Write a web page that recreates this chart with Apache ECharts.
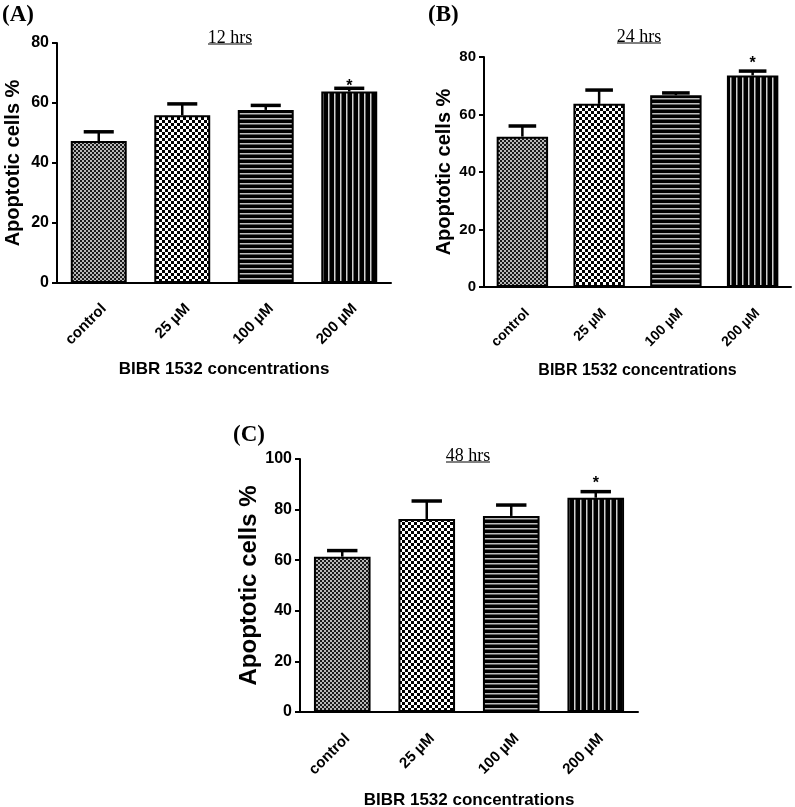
<!DOCTYPE html>
<html>
<head>
<meta charset="utf-8">
<script src="https://cdn.jsdelivr.net/npm/echarts@6/dist/echarts.min.js"></script>
<style>
html,body{margin:0;padding:0;background:#fff;}
#chart{width:795px;height:807px;}
</style>
</head>
<body>
<div id="chart"></div>
<script>
// ---- data ----
const categories = ['control', '25 µM', '100 µM', '200 µM'];
const valuesA = [47.3, 55.9, 57.7, 63.8];
const errorsA = [3.1, 3.8, 1.5, 1.1];
const valuesB = [52.3, 63.7, 66.7, 73.6];
const errorsB = [3.7, 4.8, 0.8, 1.5];
const valuesC = [61.4, 76.3, 77.5, 84.7];
const errorsC = [2.4, 7.1, 4.3, 2.4];
const significant = [0, 0, 0, 1];
const yTicksA = [0, 20, 40, 60, 80];
const yTicksB = [0, 20, 40, 60, 80];
const yTicksC = [0, 20, 40, 60, 80, 100];
const titles = ['12 hrs', '24 hrs', '48 hrs'];
const panelLabels = ['(A)', '(B)', '(C)'];
const yName = 'Apoptotic cells %';
const xName = 'BIBR 1532 concentrations';

// ---- patterns ----
function makeCanvas(w, h, draw) {
  const c = document.createElement('canvas');
  c.width = w; c.height = h;
  const ctx = c.getContext('2d');
  draw(ctx);
  return c;
}
const patControl = makeCanvas(4, 4, ctx => {
  ctx.fillStyle = '#b8b8b8'; ctx.fillRect(0, 0, 4, 4);
  ctx.fillStyle = '#1a1a1a'; ctx.fillRect(0, 0, 2, 2); ctx.fillRect(2, 2, 2, 2);
});
const patChecker = makeCanvas(6, 6, ctx => {
  ctx.fillStyle = '#ffffff'; ctx.fillRect(0, 0, 6, 6);
  ctx.fillStyle = '#000000'; ctx.fillRect(0, 0, 3, 3); ctx.fillRect(3, 3, 3, 3);
});
const patHoriz = makeCanvas(5, 5, ctx => {
  ctx.fillStyle = '#000000'; ctx.fillRect(0, 0, 5, 5);
  ctx.fillStyle = '#bdbdbd'; ctx.fillRect(0, 3, 5, 1.5);
});
const patVert = makeCanvas(6, 6, ctx => {
  ctx.fillStyle = '#000000'; ctx.fillRect(0, 0, 6, 6);
  ctx.fillStyle = '#d0d0d0'; ctx.fillRect(4, 0, 1.5, 6);
});
const patterns = [patControl, patChecker, patHoriz, patVert];

// ---- layout ----
const panels = [
  {values: valuesA, errors: errorsA, ticks: yTicksA, grid: {left: 57, top: 43, width: 334, height: 240},
   tickFont: 16, yNameFont: 20, yNameGap: 34, xNameFont: 17, xNameGap: 78, catFont: 15, catMargin: 18, starGap: 2,
   title: {x: 230, y: 38, size: 18}, label: {x: 2, y: 15}},
  {values: valuesB, errors: errorsB, ticks: yTicksB, grid: {left: 484, top: 57, width: 307, height: 230},
   tickFont: 15, yNameFont: 20, yNameGap: 30, xNameFont: 16, xNameGap: 76, catFont: 14, catMargin: 19, starGap: 7.5,
   title: {x: 639, y: 37, size: 18}, label: {x: 428, y: 15}},
  {values: valuesC, errors: errorsC, ticks: yTicksC, grid: {left: 300, top: 459, width: 338, height: 253},
   tickFont: 16, yNameFont: 24, yNameGap: 37, xNameFont: 17, xNameGap: 80, catFont: 15, catMargin: 19, starGap: 8,
   title: {x: 468, y: 456, size: 18}, label: {x: 233, y: 435}}
];

const grids = [], xAxes = [], yAxes = [], series = [], graphics = [];
panels.forEach((p, i) => {
  grids.push(Object.assign({containLabel: false, outerBoundsMode: 'none'}, p.grid));
  xAxes.push({
    type: 'category', gridIndex: i, data: categories,
    axisLine: {lineStyle: {color: '#000', width: 2}},
    axisTick: {alignWithLabel: true, length: 6, lineStyle: {color: '#000', width: 2}},
    axisLabel: {rotate: 45, margin: p.catMargin, verticalAlign: 'top', align: 'right', color: '#000', fontWeight: 'bold',
      fontSize: p.catFont, fontFamily: 'Liberation Sans'},
    name: xName, nameLocation: 'middle', nameGap: p.xNameGap,
    nameTextStyle: {color: '#000', fontWeight: 'bold', fontSize: p.xNameFont, fontFamily: 'Liberation Sans'}
  });
  const maxV = p.ticks[p.ticks.length - 1];
  yAxes.push({
    type: 'value', gridIndex: i, min: p.ticks[0], max: maxV, interval: p.ticks[1] - p.ticks[0],
    splitLine: {show: false},
    axisLine: {show: true, lineStyle: {color: '#000', width: 2}},
    axisTick: {show: true, length: 5, lineStyle: {color: '#000', width: 2}},
    axisLabel: {margin: 8, color: '#000', fontWeight: 'bold', fontSize: p.tickFont, fontFamily: 'Liberation Sans'},
    name: yName, nameLocation: 'middle', nameGap: p.yNameGap, nameRotate: 90,
    nameTextStyle: {color: '#000', fontWeight: 'bold', fontSize: p.yNameFont, fontFamily: 'Liberation Sans'}
  });
  series.push({
    type: 'bar', xAxisIndex: i, yAxisIndex: i, barCategoryGap: '33%', z: 2,
    data: p.values.map((v, k) => ({
      value: v,
      itemStyle: {color: {image: patterns[k], repeat: 'repeat'}, borderColor: '#000', borderWidth: 2}
    }))
  });
  const starGap = p.starGap;
  series.push({
    type: 'custom', xAxisIndex: i, yAxisIndex: i, z: 3,
    data: p.values.map((v, k) => [k, v, p.errors[k], significant[k]]),
    renderItem: function (params, api) {
      const x = api.value(0), v = api.value(1), e = api.value(2), s = api.value(3);
      const base = api.coord([x, v]);
      const top = api.coord([x, v + e]);
      const half = api.size([1, 0])[0] * 0.18;
      const children = [
        {type: 'line', shape: {x1: base[0], y1: base[1], x2: top[0], y2: top[1]}, style: {stroke: '#000', lineWidth: 2.5}},
        {type: 'line', shape: {x1: top[0] - half, y1: top[1], x2: top[0] + half, y2: top[1]}, style: {stroke: '#000', lineWidth: 3.5}}
      ];
      if (s) {
        children.push({type: 'text', style: {text: '*', x: top[0], y: top[1] - starGap, textAlign: 'center', textVerticalAlign: 'middle',
          font: 'bold 16px "Liberation Sans"', fill: '#000'}});
      }
      return {type: 'group', children: children};
    }
  });
  // titles with underline
  graphics.push({
    type: 'text', x: p.title.x, y: p.title.y,
    style: {text: titles[i], textAlign: 'center', textVerticalAlign: 'middle',
      font: p.title.size + 'px "Liberation Serif"', fill: '#000'}
  });
  graphics.push({
    type: 'line', shape: {x1: p.title.x - 22, y1: p.title.y + 6, x2: p.title.x + 22, y2: p.title.y + 6},
    style: {stroke: '#000', lineWidth: 1}
  });
  graphics.push({
    type: 'text', x: p.label.x, y: p.label.y,
    style: {text: panelLabels[i], textVerticalAlign: 'middle',
      font: 'bold 23px "Liberation Serif"', fill: '#000'}
  });
});

const chart = echarts.init(document.getElementById('chart'), null, {renderer: 'canvas'});
chart.setOption({
  backgroundColor: '#fff',
  animation: false,
  grid: grids,
  xAxis: xAxes,
  yAxis: yAxes,
  series: series,
  graphic: graphics
});
</script>
</body>
</html>
